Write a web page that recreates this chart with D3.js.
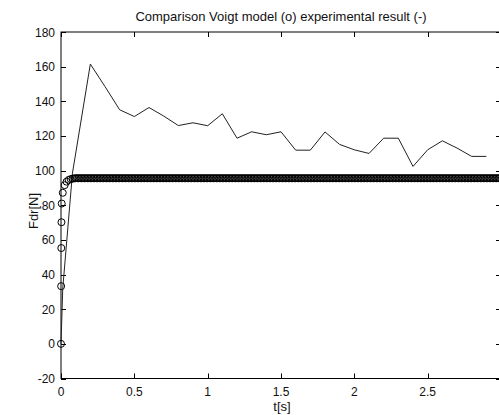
<!DOCTYPE html>
<html>
<head>
<meta charset="utf-8">
<script src="https://cdn.jsdelivr.net/npm/d3@7"></script>
<style>
  html, body { margin: 0; padding: 0; background: #fff; overflow: hidden; }
  svg { display: block; }
  text { font-family: "Liberation Sans", Arial, sans-serif; font-size: 12px; fill: #111; }
  text.big { font-size: 13px; }
</style>
</head>
<body>
<svg id="chart" width="499" height="415"></svg>
<script>
// ---- data ----
const titleText = "Comparison Voigt model (o) experimental result (-)";
const xLabel = "t[s]";
const yLabel = "Fdr[N]";
const xTicks = [0, 0.5, 1, 1.5, 2, 2.5, 3];
const xTickLabels = ["0", "0.5", "1", "1.5", "2", "2.5", ""];
const yTicks = [-20, 0, 20, 40, 60, 80, 100, 120, 140, 160, 180];
const yTickLabels = ["-20", "0", "20", "40", "60", "80", "100", "120", "140", "160", "180"];

// experimental result (solid line)
const expTime = [0, 0.012, 0.078, 0.2, 0.3, 0.4, 0.5, 0.6, 0.7, 0.8, 0.9, 1.0, 1.1, 1.2, 1.3, 1.4, 1.5,
                 1.6, 1.7, 1.8, 1.9, 2.0, 2.1, 2.2, 2.3, 2.4, 2.5, 2.6, 2.7, 2.8, 2.9];
const expForce = [0, 32, 98.5, 161.5, 148.5, 135.1, 131.2, 136.4, 131.5, 126, 127.6, 125.9, 132.8, 118.7,
                  122.4, 120.7, 122.4, 111.8, 111.8, 122.3, 115.1, 112, 109.9, 118.7, 118.7, 102.4, 112,
                  117.2, 113, 108.2, 108.2];

// Voigt model (circle markers): transient
const modelTimeRise = [0, 0.001, 0.002, 0.003, 0.005, 0.012, 0.025, 0.038, 0.052, 0.066, 0.08, 0.09];
const modelForceRise = [0, 33.3, 55.3, 70.2, 81, 87.2, 91.6, 93.6, 94.6, 95.1, 95.4, 95.5];
// Voigt model: plateau samples
const modelTimeFlat = [
  0.10, 0.11, 0.12, 0.13, 0.14, 0.15, 0.16, 0.17, 0.18, 0.19, 0.20, 0.21, 0.22, 0.23, 0.24, 0.25, 0.26, 0.27, 0.28, 0.29,
  0.30, 0.31, 0.32, 0.33, 0.34, 0.35, 0.36, 0.37, 0.38, 0.39, 0.40, 0.41, 0.42, 0.43, 0.44, 0.45, 0.46, 0.47, 0.48, 0.49,
  0.50, 0.51, 0.52, 0.53, 0.54, 0.55, 0.56, 0.57, 0.58, 0.59, 0.60, 0.61, 0.62, 0.63, 0.64, 0.65, 0.66, 0.67, 0.68, 0.69,
  0.70, 0.71, 0.72, 0.73, 0.74, 0.75, 0.76, 0.77, 0.78, 0.79, 0.80, 0.81, 0.82, 0.83, 0.84, 0.85, 0.86, 0.87, 0.88, 0.89,
  0.90, 0.91, 0.92, 0.93, 0.94, 0.95, 0.96, 0.97, 0.98, 0.99, 1.00, 1.01, 1.02, 1.03, 1.04, 1.05, 1.06, 1.07, 1.08, 1.09,
  1.10, 1.11, 1.12, 1.13, 1.14, 1.15, 1.16, 1.17, 1.18, 1.19, 1.20, 1.21, 1.22, 1.23, 1.24, 1.25, 1.26, 1.27, 1.28, 1.29,
  1.30, 1.31, 1.32, 1.33, 1.34, 1.35, 1.36, 1.37, 1.38, 1.39, 1.40, 1.41, 1.42, 1.43, 1.44, 1.45, 1.46, 1.47, 1.48, 1.49,
  1.50, 1.51, 1.52, 1.53, 1.54, 1.55, 1.56, 1.57, 1.58, 1.59, 1.60, 1.61, 1.62, 1.63, 1.64, 1.65, 1.66, 1.67, 1.68, 1.69,
  1.70, 1.71, 1.72, 1.73, 1.74, 1.75, 1.76, 1.77, 1.78, 1.79, 1.80, 1.81, 1.82, 1.83, 1.84, 1.85, 1.86, 1.87, 1.88, 1.89,
  1.90, 1.91, 1.92, 1.93, 1.94, 1.95, 1.96, 1.97, 1.98, 1.99, 2.00, 2.01, 2.02, 2.03, 2.04, 2.05, 2.06, 2.07, 2.08, 2.09,
  2.10, 2.11, 2.12, 2.13, 2.14, 2.15, 2.16, 2.17, 2.18, 2.19, 2.20, 2.21, 2.22, 2.23, 2.24, 2.25, 2.26, 2.27, 2.28, 2.29,
  2.30, 2.31, 2.32, 2.33, 2.34, 2.35, 2.36, 2.37, 2.38, 2.39, 2.40, 2.41, 2.42, 2.43, 2.44, 2.45, 2.46, 2.47, 2.48, 2.49,
  2.50, 2.51, 2.52, 2.53, 2.54, 2.55, 2.56, 2.57, 2.58, 2.59, 2.60, 2.61, 2.62, 2.63, 2.64, 2.65, 2.66, 2.67, 2.68, 2.69,
  2.70, 2.71, 2.72, 2.73, 2.74, 2.75, 2.76, 2.77, 2.78, 2.79, 2.80, 2.81, 2.82, 2.83, 2.84, 2.85, 2.86, 2.87, 2.88, 2.89,
  2.90, 2.91, 2.92, 2.93, 2.94, 2.95, 2.96, 2.97, 2.98, 2.99, 3.00];
const modelForcePlateau = 95.6;

// ---- drawing ----
const svg = d3.select("#chart");
const mLeft = 61, mRight = 501, mTop = 32, mBottom = 378.5;
const x = d3.scaleLinear().domain([0, 3]).range([mLeft, mRight]);
const y = d3.scaleLinear().domain([-20, 180]).range([mBottom, mTop]);

const expData = expTime.map((t, i) => [t, expForce[i]]);
const modelData = modelTimeRise.map((t, i) => [t, modelForceRise[i]])
  .concat(modelTimeFlat.map(t => [t, modelForcePlateau]));

// axes box
svg.append("rect")
  .attr("x", mLeft).attr("y", mTop)
  .attr("width", mRight - mLeft).attr("height", mBottom - mTop)
  .attr("fill", "#fff").attr("stroke", "#000").attr("stroke-width", 1);

const tickLen = 5;
const gx = svg.append("g").attr("class", "x-axis");
xTicks.forEach((t, i) => {
  const px = Math.round(x(t)) + 0.5;
  gx.append("line").attr("x1", px).attr("x2", px).attr("y1", mBottom).attr("y2", mBottom - tickLen).attr("stroke", "#000");
  gx.append("line").attr("x1", px).attr("x2", px).attr("y1", mTop).attr("y2", mTop + tickLen).attr("stroke", "#000");
  if (xTickLabels[i]) gx.append("text").attr("x", x(t)).attr("y", mBottom + 17).attr("text-anchor", "middle").text(xTickLabels[i]);
});
const gy = svg.append("g").attr("class", "y-axis");
yTicks.forEach((v, i) => {
  const py = Math.round(y(v)) + 0.5;
  gy.append("line").attr("x1", mLeft).attr("x2", mLeft + tickLen).attr("y1", py).attr("y2", py).attr("stroke", "#000");
  gy.append("line").attr("x1", mRight).attr("x2", mRight - tickLen).attr("y1", py).attr("y2", py).attr("stroke", "#000");
  gy.append("text").attr("x", mLeft - 6).attr("y", y(v) + 4.5).attr("text-anchor", "end").text(yTickLabels[i]);
});

// experimental line
const line = d3.line().x(d => x(d[0])).y(d => y(d[1]));
svg.append("path").datum(expData)
  .attr("d", line).attr("fill", "none").attr("stroke", "#222").attr("stroke-width", 1);

// model circles
svg.append("g").selectAll("circle").data(modelData).join("circle")
  .attr("cx", d => x(d[0])).attr("cy", d => y(d[1])).attr("r", 3.5)
  .attr("fill", "none").attr("stroke", "#000").attr("stroke-width", 1);

// titles
svg.append("text").attr("class", "big").attr("x", (mLeft + mRight) / 2).attr("y", 21).attr("text-anchor", "middle").text(titleText);
svg.append("text").attr("class", "big").attr("x", 282).attr("y", 411).attr("text-anchor", "middle").text(xLabel);
svg.append("text").attr("class", "big").attr("transform", "translate(38,211) rotate(-90)").attr("text-anchor", "middle").text(yLabel);
</script>
</body>
</html>
